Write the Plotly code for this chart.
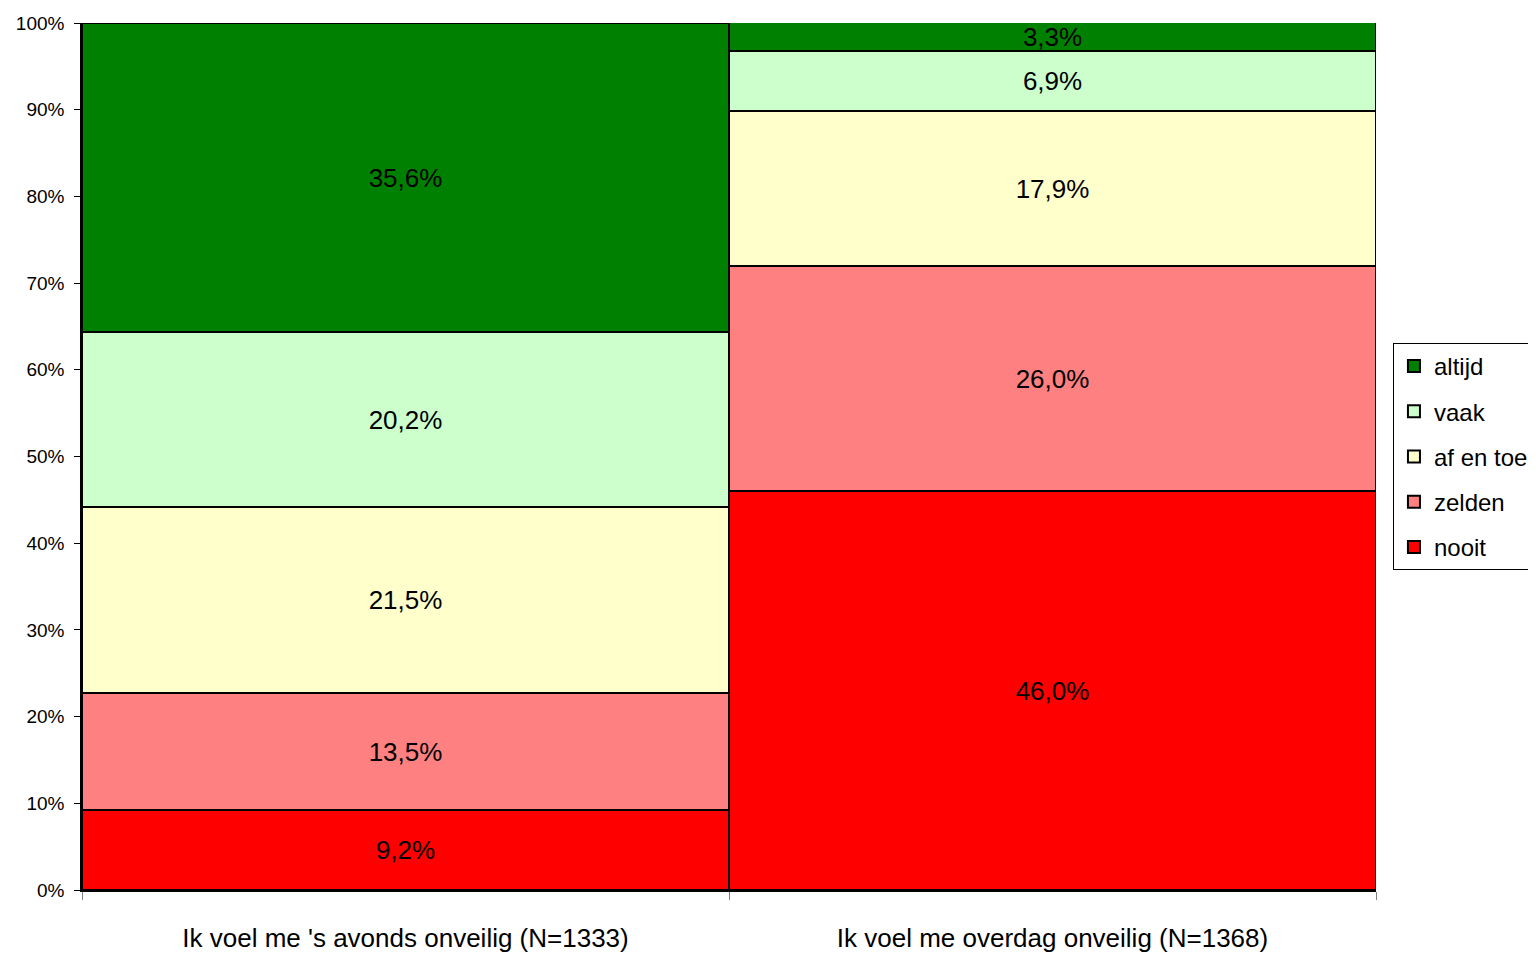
import plotly.graph_objects as go

# data
categories = ["Ik voel me 's avonds onveilig (N=1333)",
              "Ik voel me overdag onveilig (N=1368)"]
nooit = [9.2, 46.0]
zelden = [13.5, 26.0]
af_en_toe = [21.5, 17.9]
vaak = [20.2, 6.9]
altijd = [35.6, 3.3]
y_ticks = [0, 10, 20, 30, 40, 50, 60, 70, 80, 90, 100]

series = [
    ("nooit", nooit, "#FF0000"),
    ("zelden", zelden, "#FF8080"),
    ("af en toe", af_en_toe, "#FFFFCC"),
    ("vaak", vaak, "#CCFFCC"),
    ("altijd", altijd, "#008000"),
]

FONT = "Arial, Liberation Sans, sans-serif"


def pct(v):
    return f"{v:.1f}".replace(".", ",") + "%"


fig = go.Figure()
for i, (name, vals, col) in enumerate(series):
    fig.add_trace(go.Bar(
        x=categories, y=vals, name=name,
        legendgroup=name,
        legendrank=len(series) - i,
        marker=dict(color=col, line=dict(color="black", width=2)),
        text=[pct(v) for v in vals],
        textposition="inside",
        insidetextanchor="middle",
        textfont=dict(family=FONT, size=26, color="black"),
        constraintext="none",
        hoverinfo="skip",
    ))

# page body adds an 8px offset, margins compensate for it
fig.update_layout(
    barmode="stack",
    bargap=0,
    width=1536, height=956,
    margin=dict(l=74, r=168, t=15, b=74, autoexpand=False),
    paper_bgcolor="white",
    plot_bgcolor="white",
    font=dict(family=FONT, color="black"),
    uniformtext=dict(minsize=26, mode="show"),
    legend=dict(
        x=1.0131, xanchor="left", y=0.5, yanchor="middle",
        traceorder="grouped", tracegroupgap=11,
        font=dict(family=FONT, size=24, color="black"),
        bordercolor="black", borderwidth=1, bgcolor="white",
        itemwidth=30,
    ),
)

fig.update_xaxes(
    type="category",
    showline=True, linecolor="black", linewidth=1.5,
    ticks="outside", tickson="boundaries", ticklen=8, tickcolor="gray",
    tickfont=dict(family=FONT, size=26, color="black"),
    ticklabelstandoff=24,
    showgrid=False, automargin=False,
)
fig.update_yaxes(
    range=[0, 100],
    tickmode="array", tickvals=y_ticks,
    ticktext=[f"{t}%" for t in y_ticks],
    showline=True, linecolor="black", linewidth=1.5,
    ticks="outside", ticklen=6, tickcolor="black",
    tickfont=dict(family=FONT, size=19, color="black"),
    ticklabelstandoff=6,
    showgrid=False, zeroline=False, automargin=False,
)

fig.write_html("out.html")
